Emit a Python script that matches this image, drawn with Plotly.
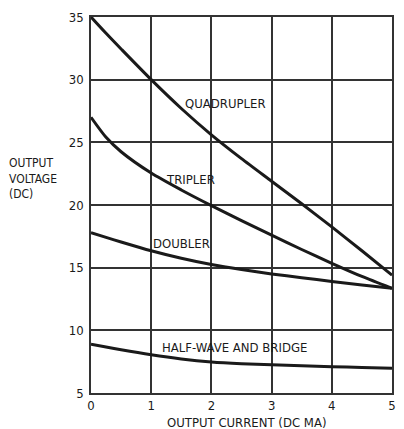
import plotly.graph_objects as go

current = [0, 0.25, 0.5, 1, 1.5, 2, 2.5, 3, 3.5, 4, 4.5, 5]
quadrupler = [35.0, 33.7, 32.45, 30.0, 27.7, 25.6, 23.7, 21.9, 20.1, 18.25, 16.35, 14.4]
tripler = [27.0, 25.4, 24.25, 22.55, 21.2, 19.95, 18.75, 17.6, 16.45, 15.35, 14.3, 13.35]
doubler = [17.8, 17.42, 17.05, 16.35, 15.75, 15.25, 14.85, 14.5, 14.2, 13.9, 13.62, 13.35]
halfwave = [8.9, 8.67, 8.45, 8.05, 7.72, 7.48, 7.34, 7.25, 7.17, 7.1, 7.04, 6.98]

series = [
    ("QUADRUPLER", quadrupler, 2.23, 28.1),
    ("TRIPLER", tripler, 1.66, 22.07),
    ("DOUBLER", doubler, 1.51, 16.96),
    ("HALF-WAVE AND BRIDGE", halfwave, 2.39, 8.6),
]

x_ticks = [0, 1, 2, 3, 4, 5]
y_ticks = [5, 10, 15, 20, 25, 30, 35]

INK = "#1a1a1a"
GRID = "#333333"
FONT = "DejaVu Sans Condensed, Liberation Sans Narrow, Arial Narrow, sans-serif"

fig = go.Figure()
for name, vals, lx, ly in series:
    fig.add_trace(go.Scatter(
        x=current, y=vals, mode="lines", name=name,
        line=dict(color=INK, width=3, shape="spline", smoothing=0.7),
        showlegend=False, hoverinfo="skip"))
    fig.add_annotation(x=lx, y=ly, xref="x", yref="y", text=name,
                       showarrow=False, font=dict(family=FONT, size=13, color=INK))

fig.add_annotation(x=0, y=0.57, xref="paper", yref="paper", xanchor="left",
                   yanchor="middle", xshift=-84,
                   text="OUTPUT<br>VOLTAGE<br>(DC)", showarrow=False, align="left",
                   font=dict(family=FONT, size=12, color=INK))
fig.add_annotation(x=0.515, y=0, xref="paper", yref="paper", xanchor="center",
                   yanchor="middle", yshift=-29,
                   text="OUTPUT CURRENT (DC MA)", showarrow=False,
                   font=dict(family=FONT, size=13, color=INK))

fig.update_layout(
    width=404, height=429,
    margin=dict(l=91, r=8, t=17, b=36),
    paper_bgcolor="white", plot_bgcolor="white",
    font=dict(family=FONT, size=13, color=INK),
    xaxis=dict(range=[0, 5], tickvals=x_ticks, ticktext=[str(v) for v in x_ticks],
               showgrid=True, gridcolor=GRID, gridwidth=1.5,
               showline=True, linecolor=GRID, linewidth=1.5, mirror=True,
               zeroline=False, ticks="", ticklabelstandoff=0),
    yaxis=dict(range=[5, 35], tickvals=y_ticks, ticktext=[str(v) for v in y_ticks],
               showgrid=True, gridcolor=GRID, gridwidth=1.5,
               showline=True, linecolor=GRID, linewidth=1.5, mirror=True,
               zeroline=False, ticks="", ticklabelstandoff=3),
)

fig.write_html("out.html", config={"displayModeBar": False},
               post_script="document.body.style.margin='0';document.body.style.overflow='hidden';")
